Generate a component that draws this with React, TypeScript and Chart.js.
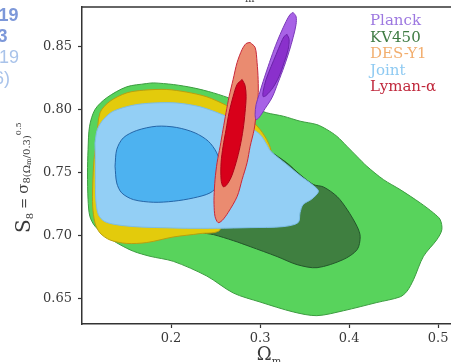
import React, { useEffect, useRef } from "react";
import { Chart, registerables } from "chart.js";

Chart.register(...registerables);

type P = [number, number];

// Axes
const X_RANGE: P = [0.1, 0.52];
const Y_RANGE: P = [0.63, 0.881];
const X_TICKS = [0.2, 0.3, 0.4, 0.5];
const Y_TICKS = [0.65, 0.7, 0.75, 0.8, 0.85];

// Legend
const LEGEND_LABELS = ["Planck", "KV450", "DES-Y1", "Joint", "Lyman-α"];
const LEGEND_COLORS = ["#9d78e0", "#3f7b43", "#f2ae6e", "#8ecaf2", "#c0283c"];

// Slide text fragments on the left edge
const SIDE_TEXT = ["19", "3", "19", "6)"];

// Contours: [Omega_m, S8]
const KV450_95: P[] = [
  [0.1727, 0.8204], [0.1502, 0.8178], [0.1277, 0.8091], [0.1146, 0.7998], [0.1085, 0.7866],
  [0.1068, 0.7681], [0.1062, 0.7496], [0.1068, 0.7285], [0.1088, 0.7153], [0.1146, 0.7074],
  [0.1277, 0.6994], [0.1427, 0.6928], [0.1577, 0.6876], [0.1764, 0.6836], [0.2026, 0.6796],
  [0.2401, 0.668], [0.27, 0.6545], [0.3, 0.6474], [0.3375, 0.6395], [0.3637, 0.6366],
  [0.3936, 0.6405], [0.4311, 0.647], [0.4573, 0.6515], [0.465, 0.656], [0.4723, 0.6651],
  [0.4835, 0.6836], [0.4985, 0.6968], [0.5041, 0.7047], [0.5022, 0.7127], [0.4948, 0.7179],
  [0.4798, 0.7259], [0.4573, 0.7364], [0.4386, 0.7443], [0.4199, 0.7549], [0.4086, 0.7628],
  [0.3974, 0.7708], [0.3861, 0.7787], [0.3749, 0.784], [0.3637, 0.7879], [0.3449, 0.7906],
  [0.3262, 0.7945], [0.3075, 0.7972], [0.2981, 0.7998], [0.27, 0.8077], [0.2476, 0.813],
  [0.2251, 0.817], [0.2026, 0.8196], [0.1801, 0.8209],
];
const KV450_68: P[] = [
  [0.3112, 0.7668], [0.33, 0.7576], [0.3449, 0.7483], [0.3599, 0.7404], [0.3712, 0.7385],
  [0.3865, 0.7309], [0.3978, 0.7206], [0.409, 0.7071], [0.4124, 0.6992], [0.409, 0.6889],
  [0.3933, 0.681], [0.364, 0.6746], [0.3416, 0.677], [0.3191, 0.6834], [0.2888, 0.6913],
  [0.27, 0.696], [0.2476, 0.7008], [0.2326, 0.703], [0.21, 0.715], [0.23, 0.74],
  [0.27, 0.76], [0.295, 0.77],
];
const DES_95: P[] = [
  [0.1165, 0.776], [0.1202, 0.7972], [0.1315, 0.8064], [0.1502, 0.813], [0.1689, 0.8151],
  [0.1951, 0.8157], [0.2176, 0.8136], [0.2401, 0.8099], [0.2625, 0.803], [0.285, 0.7945],
  [0.3, 0.784], [0.3094, 0.7734], [0.312, 0.766], [0.3037, 0.7628], [0.27, 0.7391],
  [0.2551, 0.7047], [0.2326, 0.7016], [0.2026, 0.6989], [0.1727, 0.6945], [0.1502, 0.6938],
  [0.1315, 0.6965], [0.1202, 0.7021], [0.1146, 0.71], [0.112, 0.7232], [0.112, 0.7391],
  [0.1135, 0.7602],
];
const JOINT_95: P[] = [
  [0.1146, 0.7734], [0.1172, 0.784], [0.124, 0.7919], [0.1352, 0.7985], [0.1577, 0.8033],
  [0.1801, 0.805], [0.2064, 0.805], [0.2326, 0.802], [0.2551, 0.7965], [0.2738, 0.7908],
  [0.2888, 0.7853], [0.3, 0.78], [0.3075, 0.7721], [0.312, 0.7668], [0.33, 0.7562],
  [0.3449, 0.7475], [0.3599, 0.7396], [0.3655, 0.735], [0.3581, 0.729], [0.3483, 0.7246],
  [0.3449, 0.7182], [0.3427, 0.7103], [0.3258, 0.7071], [0.2888, 0.7063], [0.2513, 0.7058],
  [0.2176, 0.7058], [0.1876, 0.7063], [0.1652, 0.7068], [0.1427, 0.7082], [0.1258, 0.711],
  [0.1184, 0.7166], [0.1155, 0.7285], [0.115, 0.7443], [0.115, 0.7602],
];
const JOINT_68: P[] = [
  [0.1371, 0.7549], [0.139, 0.7681], [0.1464, 0.7774], [0.1614, 0.7832], [0.1839, 0.7866],
  [0.2064, 0.7856], [0.227, 0.7813], [0.2419, 0.7747], [0.2513, 0.7655], [0.2569, 0.7523],
  [0.2532, 0.7404], [0.2438, 0.7338], [0.2251, 0.7298], [0.2026, 0.7272], [0.1801, 0.7264],
  [0.1577, 0.7285], [0.1446, 0.7338], [0.139, 0.7417],
];
const LYA_95: P[] = [
  [0.2888, 0.8529], [0.2944, 0.849], [0.2966, 0.8371], [0.2978, 0.8236], [0.2978, 0.8101],
  [0.2955, 0.7959], [0.2933, 0.784], [0.2888, 0.7705], [0.2854, 0.7578], [0.2798, 0.7444],
  [0.2742, 0.7309], [0.264, 0.7182], [0.2573, 0.7119], [0.2528, 0.7103], [0.2494, 0.7151],
  [0.2483, 0.7246], [0.2483, 0.7309], [0.2494, 0.7444], [0.2517, 0.7578], [0.2551, 0.7705],
  [0.2584, 0.784], [0.2618, 0.7975], [0.2652, 0.8101], [0.2697, 0.8236], [0.2742, 0.8371],
  [0.2798, 0.8474], [0.2843, 0.8521],
];
const LYA_68: P[] = [
  [0.2798, 0.8236], [0.2831, 0.8189], [0.2843, 0.8101], [0.2831, 0.7975], [0.2809, 0.784],
  [0.2775, 0.7705], [0.273, 0.7578], [0.2674, 0.746], [0.2618, 0.7396], [0.2584, 0.7388],
  [0.2562, 0.7444], [0.2562, 0.7578], [0.2584, 0.7705], [0.2618, 0.784], [0.2652, 0.7975],
  [0.2697, 0.8101], [0.2742, 0.8197],
];
const PLANCK_95: P[] = [
  [0.3371, 0.8767], [0.3404, 0.8735], [0.3404, 0.8672], [0.3371, 0.8569], [0.3326, 0.8458],
  [0.327, 0.8339], [0.3202, 0.8212], [0.3135, 0.8094], [0.3056, 0.8006], [0.2989, 0.7935],
  [0.2955, 0.7919], [0.2944, 0.7959], [0.2955, 0.8038], [0.2989, 0.8117], [0.3034, 0.822],
  [0.309, 0.8339], [0.3157, 0.8474], [0.3225, 0.8593], [0.3292, 0.8696], [0.3337, 0.8751],
];
const PLANCK_68: P[] = [
  [0.3303, 0.8593], [0.3326, 0.8553], [0.3315, 0.8474], [0.327, 0.8371], [0.3213, 0.826],
  [0.3146, 0.8173], [0.3067, 0.8109], [0.3034, 0.8101], [0.3034, 0.8141], [0.3067, 0.8236],
  [0.3124, 0.8339], [0.318, 0.8434], [0.3236, 0.8529], [0.327, 0.8577],
];

const AXIS_COLOR = "#333333";
const TEXT_COLOR = "#3a3a3a";
const SERIF = '"DejaVu Serif"';

function contour(label: string, pts: P[], fill: string, border: string, order: number) {
  const closed = pts.concat([pts[0]]);
  return {
    label,
    data: closed.map(([x, y]) => ({ x, y })),
    showLine: true,
    fill: "shape",
    backgroundColor: fill,
    borderColor: border,
    borderWidth: 1,
    pointRadius: 0,
    pointHoverRadius: 0,
    tension: 0.3,
    order,
  };
}

const decorPlugin = {
  id: "decor",
  afterDraw(chart: any) {
    const ctx: CanvasRenderingContext2D = chart.ctx;
    const a = chart.chartArea;
    ctx.save();
    // top frame line
    ctx.strokeStyle = AXIS_COLOR;
    ctx.lineWidth = 1.5;
    ctx.beginPath();
    ctx.moveTo(a.left, a.top);
    ctx.lineTo(a.right, a.top);
    ctx.stroke();

    // legend (text only)
    ctx.font = `15px ${SERIF}`;
    ctx.textAlign = "left";
    ctx.textBaseline = "alphabetic";
    LEGEND_LABELS.forEach((t, i) => {
      ctx.fillStyle = LEGEND_COLORS[i];
      ctx.fillText(t, 370, 25 + i * 16.5);
    });

    // x-axis title Ω_m
    ctx.fillStyle = TEXT_COLOR;
    const cx = (a.left + a.right) / 2;
    ctx.font = `18px ${SERIF}`;
    const wO = ctx.measureText("Ω").width;
    ctx.font = `10px ${SERIF}`;
    const wm = ctx.measureText("m").width;
    const x0 = cx - (wO + wm) / 2;
    ctx.font = `18px ${SERIF}`;
    ctx.fillText("Ω", x0, 360);
    ctx.font = `10px ${SERIF}`;
    ctx.fillText("m", x0 + wO, 364);

    // partially visible axis title of the panel above
    ctx.font = `18px ${SERIF}`;
    ctx.fillText("Ω", 231, -4);
    ctx.font = `10px ${SERIF}`;
    ctx.fillText("m", 245, 2);

    // y-axis title S8 = σ8(Ωm/0.3)^0.5 (rotated)
    const segs: { t: string; s: number; b: number }[] = [
      { t: "S", s: 20, b: 30 },
      { t: "8", s: 10, b: 33 },
      { t: " = ", s: 13, b: 28 },
      { t: "σ", s: 15, b: 28 },
      { t: "8(Ω", s: 10, b: 30 },
      { t: "m", s: 7, b: 31 },
      { t: "/0.3)", s: 10, b: 30 },
      { t: "0.5", s: 8, b: 21 },
    ];
    ctx.save();
    ctx.rotate(-Math.PI / 2);
    let u = -233;
    for (const sg of segs) {
      ctx.font = `${sg.s}px ${SERIF}`;
      ctx.fillText(sg.t, u, sg.b);
      u += ctx.measureText(sg.t).width;
    }
    ctx.restore();

    // slide text fragments cut by the left edge
    const rights = [18.5, 7.5, 19, 10];
    const bases = [20.5, 41.5, 63, 84];
    const cols = ["#7d98d9", "#7d98d9", "#a9c3ea", "#a9c3ea"];
    const weights = ["bold", "bold", "normal", "normal"];
    ctx.textAlign = "right";
    SIDE_TEXT.forEach((t, i) => {
      ctx.font = `${weights[i]} 18px "Liberation Sans"`;
      ctx.fillStyle = cols[i];
      ctx.fillText(t, rights[i], bases[i]);
    });
    ctx.restore();
  },
};

export default function App() {
  const ref = useRef<HTMLCanvasElement | null>(null);

  useEffect(() => {
    if (!ref.current) return;
    const chart = new Chart(ref.current, {
      type: "scatter",
      data: {
        datasets: [
          contour("Planck 68%", PLANCK_68, "#8a30cc", "#6a22a8", 1),
          contour("Planck 95%", PLANCK_95, "#a862e6", "#7a3ab8", 2),
          contour("Lyman-α 68%", LYA_68, "#d8001a", "#b00018", 3),
          contour("Lyman-α 95%", LYA_95, "#ea8b70", "#c8283a", 4),
          contour("Joint 68%", JOINT_68, "#4db2f0", "#2566a8", 5),
          contour("Joint 95%", JOINT_95, "#93cff5", "#7cbde8", 6),
          contour("DES-Y1 95%", DES_95, "#e3cb0c", "#b89f10", 7),
          contour("KV450 68%", KV450_68, "#3f7f40", "#23562a", 8),
          contour("KV450 95%", KV450_95, "#58d35c", "#3c9c40", 9),
        ] as any,
      },
      options: {
        animation: false,
        responsive: false,
        devicePixelRatio: 1,
        events: [],
        layout: { padding: { left: 0, top: 7, right: 4, bottom: 0 } },
        plugins: {
          legend: { display: false },
          tooltip: { enabled: false },
          title: { display: false },
        },
        scales: {
          x: {
            type: "linear",
            min: X_RANGE[0],
            max: X_RANGE[1],
            afterBuildTicks: (s: any) => {
              s.ticks = X_TICKS.map((v) => ({ value: v }));
            },
            afterFit: (s: any) => {
              s.height = 38;
              s.paddingLeft = 0;
              s.paddingRight = 0;
            },
            grid: { display: true, drawOnChartArea: false, drawTicks: true, tickLength: 4, tickColor: AXIS_COLOR, tickWidth: 1.2 },
            border: { display: true, color: AXIS_COLOR, width: 1.5 },
            ticks: {
              autoSkip: false,
              maxRotation: 0,
              padding: 3,
              color: TEXT_COLOR,
              font: { family: "DejaVu Serif", size: 13 },
              callback: (v: any) => Number(v).toFixed(1),
            },
          },
          y: {
            type: "linear",
            min: Y_RANGE[0],
            max: Y_RANGE[1],
            afterBuildTicks: (s: any) => {
              s.ticks = Y_TICKS.map((v) => ({ value: v }));
            },
            afterFit: (s: any) => {
              s.width = 82;
              s.paddingTop = 0;
              s.paddingBottom = 0;
            },
            grid: { display: true, drawOnChartArea: false, drawTicks: true, tickLength: 4, tickColor: AXIS_COLOR, tickWidth: 1.2 },
            border: { display: true, color: AXIS_COLOR, width: 1.5 },
            ticks: {
              autoSkip: false,
              padding: 6,
              color: TEXT_COLOR,
              font: { family: "DejaVu Serif", size: 13 },
              callback: (v: any) => Number(v).toFixed(2),
            },
          },
        },
      } as any,
      plugins: [decorPlugin],
    });
    return () => chart.destroy();
  }, []);

  return (
    <div style={{ position: "fixed", left: 0, top: 0, width: 451, height: 362, overflow: "hidden", background: "#ffffff" }}>
      <canvas ref={ref} width={460} height={362} style={{ display: "block", width: 460, height: 362 }} />
    </div>
  );
}
